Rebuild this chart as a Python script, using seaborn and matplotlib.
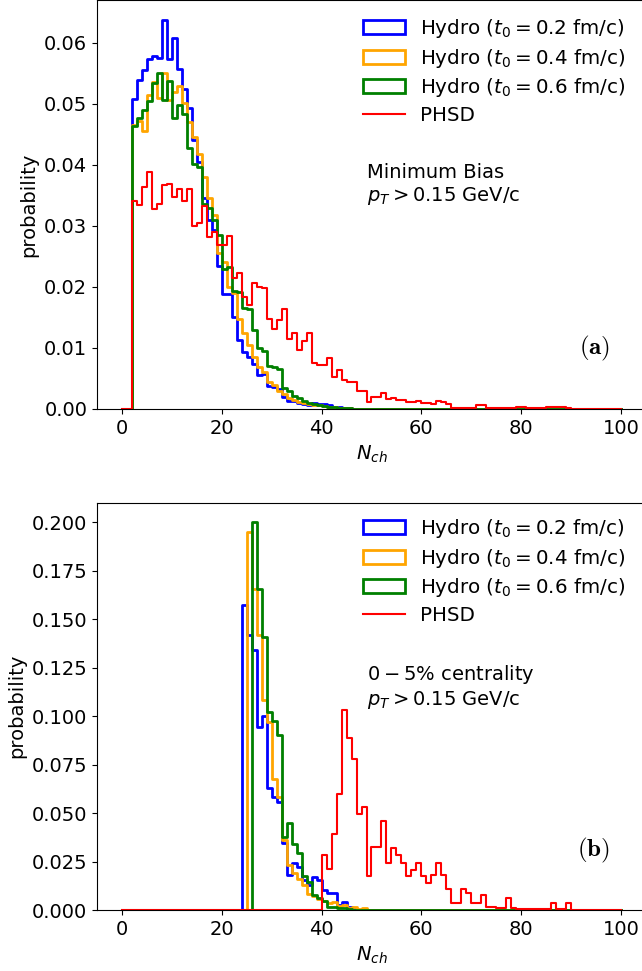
import numpy as np
import pandas as pd
import matplotlib
matplotlib.use("Agg")
import matplotlib.pyplot as plt
import seaborn as sns
from matplotlib.patches import Patch
from matplotlib.lines import Line2D

plt.rcParams['font.family'] = ['DejaVu Sans']
plt.rcParams['font.size'] = 14

# ---------------- data (probability per unit-width N_ch bin) ----------------
n_bins = 100  # bins [0,1), [1,2), ... [99,100)

# Panel (a): Minimum bias
mb_start = 2
mb_hydro_02 = [0.0508, 0.0539, 0.0556, 0.0574, 0.0579, 0.0575, 0.0638, 0.0573, 0.0608, 0.0557,
               0.0525, 0.0493, 0.0440, 0.0404, 0.0346, 0.0310, 0.0293, 0.0235, 0.0188, 0.0189,
               0.0151, 0.0113, 0.0093, 0.0085, 0.0073, 0.0056, 0.0057, 0.0038, 0.0036, 0.0032,
               0.0019, 0.0013, 0.0013, 0.0010, 0.0009, 0.0007, 0.0010, 0.0009, 0.0008, 0.0006,
               0.0004, 0.0003, 0.0002, 0.0001]
mb_hydro_04 = [0.0466, 0.0472, 0.0456, 0.0515, 0.0536, 0.0509, 0.0550, 0.0507, 0.0520, 0.0529,
               0.0501, 0.0470, 0.0446, 0.0418, 0.0380, 0.0345, 0.0318, 0.0255, 0.0240, 0.0200,
               0.0190, 0.0148, 0.0125, 0.0105, 0.0085, 0.0068, 0.0060, 0.0045, 0.0040, 0.0030,
               0.0025, 0.0018, 0.0015, 0.0012, 0.0010, 0.0008, 0.0007, 0.0006, 0.0005, 0.0004,
               0.0003, 0.0002, 0.0002, 0.0001]
mb_hydro_06 = [0.0463, 0.0477, 0.0490, 0.0504, 0.0534, 0.0551, 0.0507, 0.0537, 0.0476, 0.0498,
               0.0484, 0.0427, 0.0402, 0.0397, 0.0335, 0.0330, 0.0310, 0.0285, 0.0230, 0.0232,
               0.0194, 0.0192, 0.0165, 0.0163, 0.0130, 0.0100, 0.0095, 0.0070, 0.0068, 0.0065,
               0.0035, 0.0030, 0.0022, 0.0018, 0.0013, 0.0010, 0.0008, 0.0006, 0.0005, 0.0004,
               0.0003, 0.0002, 0.0002, 0.0001]
mb_phsd = [0.0340, 0.0334, 0.0364, 0.0388, 0.0327, 0.0336, 0.0367, 0.0369, 0.0348, 0.0360,
           0.0341, 0.0360, 0.0300, 0.0305, 0.0332, 0.0281, 0.0290, 0.0269, 0.0269, 0.0283,
           0.0215, 0.0222, 0.0184, 0.0171, 0.0207, 0.0200, 0.0199, 0.0147, 0.0131, 0.0146,
           0.0163, 0.0114, 0.0124, 0.0097, 0.0112, 0.0124, 0.0075, 0.0072, 0.0072, 0.0083,
           0.0053, 0.0064, 0.0048, 0.0045, 0.0045, 0.0030, 0.0029, 0.0011, 0.0019, 0.0019,
           0.0027, 0.0016, 0.0018, 0.0015, 0.0015, 0.0012, 0.0011, 0.0013, 0.0010, 0.0010,
           0.0008, 0.0013, 0.0012, 0.0008, 0.0002, 0.0002, 0.0002, 0.0002, 0.0002, 0.0006,
           0.0006, 0.0002, 0.0002, 0.0002, 0.0002, 0.0002, 0.0001, 0.0003, 0.0003, 0.0001,
           0.0001, 0.0001, 0.0001, 0.0003, 0.0003, 0.0003, 0.0003, 0.0002]

# Panel (b): 0-5% centrality
c_hydro_02_start = 24
c_hydro_02 = [0.1572, 0.1418, 0.1340, 0.0945, 0.0999, 0.0627, 0.0585, 0.0558, 0.0348, 0.0180,
              0.0245, 0.0223, 0.0155, 0.0130, 0.0172, 0.0155, 0.0103, 0.0086, 0.0086, 0.0026,
              0.0043, 0.0017, 0.0005]
c_hydro_04_start = 25
c_hydro_04 = [0.1950, 0.1658, 0.1418, 0.1086, 0.0969, 0.0674, 0.0585, 0.0360, 0.0232, 0.0190,
              0.0160, 0.0130, 0.0080, 0.0070, 0.0055, 0.0045, 0.0035, 0.0040, 0.0020, 0.0025,
              0.0010, 0.0015, 0.0005, 0.0008, 0.0002]
c_hydro_06_start = 26
c_hydro_06 = [0.2002, 0.1658, 0.1409, 0.1022, 0.0976, 0.0902, 0.0378, 0.0447, 0.0340, 0.0292,
              0.0175, 0.0142, 0.0077, 0.0060, 0.0048, 0.0017, 0.0015, 0.0012, 0.0008, 0.0005]
c_phsd_start = 40
c_phsd = [0.0284, 0.0211, 0.0390, 0.0601, 0.1030, 0.0886, 0.0779, 0.0493, 0.0532, 0.0178,
          0.0325, 0.0325, 0.0460, 0.0244, 0.0318, 0.0284, 0.0244, 0.0175, 0.0208, 0.0244,
          0.0178, 0.0140, 0.0180, 0.0244, 0.0180, 0.0106, 0.0038, 0.0038, 0.0106, 0.0090,
          0.0035, 0.0035, 0.0078, 0.0015, 0.0015, 0.0008, 0.0008, 0.0060, 0.0008, 0.0003,
          0.0003, 0.0003, 0.0003, 0.0003, 0.0003, 0.0003, 0.0035, 0.0003, 0.0003, 0.0035]

labels = [r"Hydro ($t_0 = 0.2$ fm/c)", r"Hydro ($t_0 = 0.4$ fm/c)",
          r"Hydro ($t_0 = 0.6$ fm/c)", "PHSD"]
colors = ["blue", "orange", "green", "red"]

bin_centers = np.arange(n_bins) + 0.5


def full(start, vals):
    arr = np.zeros(n_bins)
    arr[start:start + len(vals)] = vals
    return arr


def make_df(series):
    rows = []
    for lab, (start, vals) in zip(labels, series):
        for c, w in zip(bin_centers, full(start, vals)):
            rows.append((lab, c, w))
    return pd.DataFrame(rows, columns=["model", "nch", "prob"])


df_mb = make_df([(mb_start, mb_hydro_02), (mb_start, mb_hydro_04),
                 (mb_start, mb_hydro_06), (mb_start, mb_phsd)])
df_c = make_df([(c_hydro_02_start, c_hydro_02), (c_hydro_04_start, c_hydro_04),
                (c_hydro_06_start, c_hydro_06), (c_phsd_start, c_phsd)])

W, H = 642, 971
fig = plt.figure(figsize=(W / 100, H / 100), dpi=100)
ax1 = fig.add_axes([97 / W, 1 - 409 / H, 549 / W, 409 / H])
ax2 = fig.add_axes([97 / W, 1 - 910 / H, 549 / W, 407.4 / H])


def draw(ax, df, ylim, txt, txt_y, tag, tag_y, leg_dy):
    for lab, col in zip(labels, colors):
        sub = df[df["model"] == lab]
        lw = 1.5 if lab == "PHSD" else 2.0
        sns.histplot(data=sub, x="nch", weights="prob", binwidth=1, binrange=(0, n_bins),
                     element="step", fill=False, color=col, linewidth=lw, ax=ax)
    ax.set_xlim(-5, 105)
    ax.set_ylim(*ylim)
    ax.set_xticks([0, 20, 40, 60, 80, 100])
    ax.set_xlabel(r"$N_{ch}$")
    ax.set_ylabel("probability")
    handles = [Patch(facecolor="none", edgecolor=c, linewidth=2) for c in colors[:3]]
    handles.append(Line2D([], [], color="red", linewidth=1.5))
    ax.legend(handles, labels, loc="upper right", frameon=False, fontsize=14.3,
              bbox_to_anchor=(1 - 3 / 549, 1 + leg_dy), labelspacing=0.34,
              handlelength=2.1, handletextpad=0.75)
    ax.text(0.492, txt_y, txt, transform=ax.transAxes, fontsize=14, va="top", ha="left")
    ax.text(0.934, tag_y, tag, transform=ax.transAxes, fontsize=18, ha="right",
            va="center", math_fontfamily="cm")


draw(ax1, df_mb, (0, 0.067),
     "Minimum Bias\n" + r"$p_T > 0.15$ GeV/c", 0.601, r"$\mathbf{(a)}$", 0.149, 0.0025)
ax1.set_yticks([0.0, 0.01, 0.02, 0.03, 0.04, 0.05, 0.06])
draw(ax2, df_c, (0, 0.2102),
     r"$0-5\%$ centrality" + "\n" + r"$p_T > 0.15$ GeV/c", 0.606, r"$\mathbf{(b)}$", 0.147,
     0.009)
ax2.set_yticks(np.arange(0, 0.201, 0.025))

fig.savefig("out.png", dpi=100)
